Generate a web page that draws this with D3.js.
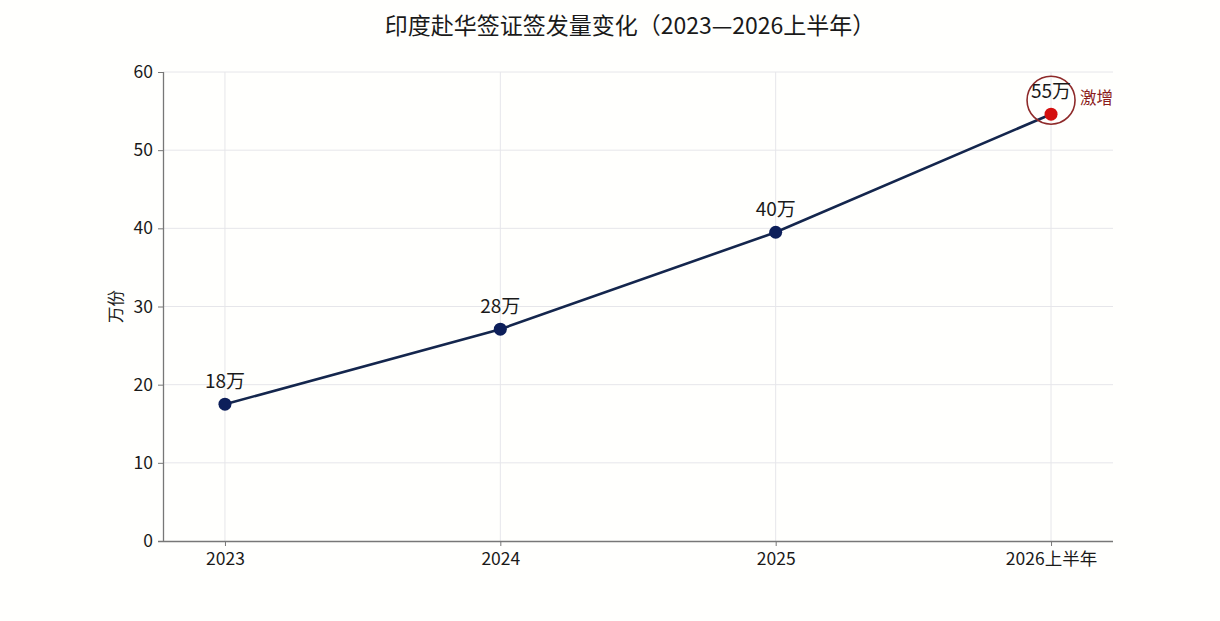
<!DOCTYPE html>
<html>
<head>
<meta charset="utf-8">
<script src="https://cdn.jsdelivr.net/npm/d3@7"></script>
<style>
  body{margin:0;background:#fffffd;}
  text{font-family:"Noto Sans CJK SC","Noto Sans",sans-serif;}
</style>
</head>
<body>
<div id="chart"></div>
<script>
var width=1220,height=621;
var margin={left:163,top:72,right:107,bottom:80};

var categories=["2023","2024","2025","2026上半年"];
var values=[17.5,27.1,39.5,54.6];
var labels=["18万","28万","40万","55万"];
var yTicks=[0,10,20,30,40,50,60];

var svg=d3.select("#chart").append("svg")
          .attr("width",width).attr("height",height);

svg.append("rect").attr("width",width).attr("height",height).attr("fill","#fffffd");

var x=d3.scalePoint().domain(categories)
        .range([margin.left,width-margin.right]).padding(0.225);
var y=d3.scaleLinear().domain([0,60]).range([height-margin.bottom,margin.top]);

// grid
svg.append("g").selectAll("line").data(yTicks.slice(1)).enter().append("line")
   .attr("x1",margin.left).attr("x2",width-margin.right)
   .attr("y1",d=>y(d)).attr("y2",d=>y(d))
   .attr("stroke","#e6e6ea").attr("stroke-width",1);
svg.append("g").selectAll("line").data(categories).enter().append("line")
   .attr("x1",d=>x(d)).attr("x2",d=>x(d))
   .attr("y1",margin.top).attr("y2",height-margin.bottom)
   .attr("stroke","#e6e6ea").attr("stroke-width",1);

// axes
var yAxis=svg.append("g").attr("transform","translate("+margin.left+",0)")
   .call(d3.axisLeft(y).tickValues(yTicks).tickSize(5).tickPadding(5));
var xAxis=svg.append("g").attr("transform","translate(0,"+(height-margin.bottom)+")")
   .call(d3.axisBottom(x).tickSize(5).tickPadding(7));
[xAxis,yAxis].forEach(g=>{
  g.select(".domain").attr("stroke","#777").attr("stroke-width",1.3);
  g.selectAll(".tick line").attr("stroke","#777");
  g.selectAll(".tick text").attr("fill","#1a1a1a").style("font-size","17.5px")
   .style("font-family",'"Noto Sans CJK SC","Noto Sans",sans-serif');
});
// x domain without outer ticks at ends
xAxis.select(".domain").attr("d","M"+(margin.left-5)+",0.5H"+(width-margin.right));
yAxis.select(".domain").attr("d","M0.5,"+y(60)+"V"+y(0));

svg.append("text")
   .attr("transform","translate(115,"+((margin.top+height-margin.bottom)/2)+") rotate(-90)")
   .attr("text-anchor","middle").attr("dominant-baseline","central")
   .style("font-size","16.5px").attr("fill","#1a1a1a").text("万份");

// title
svg.append("text").attr("x",630).attr("y",34).attr("text-anchor","middle")
   .style("font-size","23px").attr("fill","#1a1a1a")
   .text("印度赴华签证签发量变化（2023—2026上半年）");

// line
var pts=categories.map((c,i)=>({c:c,v:values[i],l:labels[i]}));
var line=d3.line().x(d=>x(d.c)).y(d=>y(d.v));
svg.append("path").datum(pts).attr("d",line)
   .attr("fill","none").attr("stroke","#14264d").attr("stroke-width",2.6);

var last=pts[pts.length-1];
// highlight ring
svg.append("circle").attr("cx",x(last.c)).attr("cy",y(last.v)-14).attr("r",24)
   .attr("fill","none").attr("stroke","#8e2a2a").attr("stroke-width",1.6);

svg.append("g").selectAll("circle").data(pts).enter().append("circle")
   .attr("cx",d=>x(d.c)).attr("cy",d=>y(d.v)).attr("r",6.5)
   .attr("fill",(d,i)=>i==pts.length-1?"#d40f0f":"#0d1f5a");

svg.append("g").selectAll("text").data(pts).enter().append("text")
   .attr("x",d=>x(d.c)).attr("y",d=>y(d.v)-16)
   .attr("text-anchor","middle").style("font-size","19px").attr("fill","#1a1a1a")
   .text(d=>d.l);

svg.append("text").attr("x",x(last.c)+29).attr("y",y(last.v)-10)
   .style("font-size","16.5px").attr("fill","#8b1c1c").text("激增");
</script>
</body>
</html>
